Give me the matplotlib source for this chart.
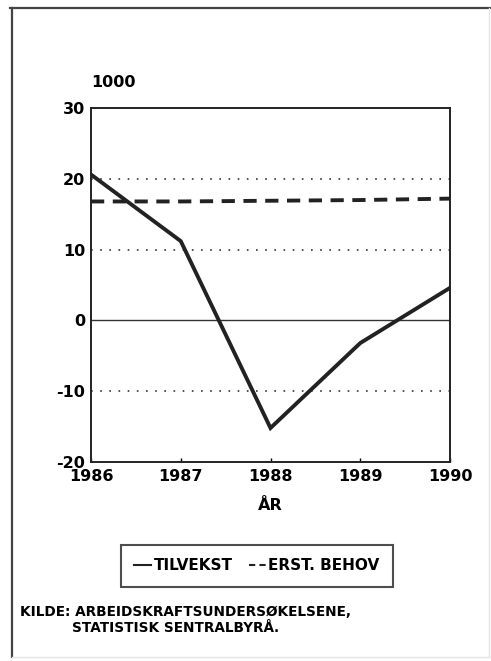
import numpy as np
import matplotlib.pyplot as plt
from matplotlib.lines import Line2D
from matplotlib.ticker import FuncFormatter

years = [1986, 1987, 1988, 1989, 1990]
tilvekst = [20.6, 11.2, -15.2, -3.2, 4.6]
erst_behov = [16.8, 16.8, 16.9, 17.0, 17.2]
yticks = [-20, -10, 0, 10, 20, 30]

plt.rcParams['font.family'] = ['DejaVu Sans']
plt.rcParams['font.weight'] = 'bold'

fig = plt.figure(figsize=(4.91, 6.61), dpi=100)
ax = fig.add_axes([91 / 491, 1 - 462 / 661, 359 / 491, 354 / 661])

for v in [-10, 10, 20]:
    ax.axhline(v, color='#333333', lw=1.2, ls=(0, (1, 4.5)))
ax.axhline(0, color='#333333', lw=1.0)

l1, = ax.plot(years, tilvekst, color='#222222', lw=2.8, solid_joinstyle='miter')
l2, = ax.plot(years, erst_behov, color='#222222', lw=2.8, ls=(0, (3.4, 2.2)))

ax.set_xlim(1986, 1990)
ax.set_ylim(-20, 30)
ax.set_xticks(years)
ax.set_yticks(yticks)
ax.yaxis.set_major_formatter(FuncFormatter(lambda v, p: '%d' % v))
ax.tick_params(axis='x', direction='in', length=3, width=1, pad=5, labelsize=11.5)
ax.tick_params(axis='y', length=0, pad=4, labelsize=11.5)
for s in ax.spines.values():
    s.set_linewidth(1.4)
    s.set_color('#222222')

ax.set_xlabel('ÅR', fontsize=11.5, fontweight='bold', labelpad=10)
ax.text(0.0, 1.05, '1000', transform=ax.transAxes, fontsize=11.5,
        fontweight='bold', ha='left', va='bottom')

leg = fig.legend([l1, l2], ['TILVEKST', 'ERST. BEHOV'], ncol=2,
                 loc='center', bbox_to_anchor=(257 / 491, 1 - 566 / 661),
                 handlelength=1.1, handletextpad=0.15, columnspacing=1.1,
                 borderpad=0.9, prop={'size': 11, 'weight': 'bold'},
                 fancybox=False, edgecolor='#222222')
leg.get_frame().set_linewidth(1.5)
for h in leg.legend_handles:
    h.set_linewidth(1.5)
leg.legend_handles[1].set_linestyle((0, (3, 2)))

fig.text(20 / 491, 1 - 612 / 661, 'KILDE: ARBEIDSKRAFTSUNDERSØKELSENE,',
         fontsize=9.8, fontweight='bold', va='center')
fig.text(72 / 491, 1 - 628 / 661, 'STATISTISK SENTRALBYRÅ.',
         fontsize=9.8, fontweight='bold', va='center')

# outer frame: dark on left and top, faint on right and bottom
fig.add_artist(Line2D([12 / 491, 12 / 491], [1 - 657 / 661, 1 - 8 / 661],
                      transform=fig.transFigure, color='#444444', lw=1.6))
fig.add_artist(Line2D([10 / 491, 1.0], [1 - 8 / 661, 1 - 8 / 661],
                      transform=fig.transFigure, color='#444444', lw=1.6))
fig.add_artist(Line2D([489 / 491, 489 / 491], [1 - 657 / 661, 1 - 8 / 661],
                      transform=fig.transFigure, color='#e4e4e4', lw=1))
fig.add_artist(Line2D([12 / 491, 489 / 491], [1 - 657 / 661, 1 - 657 / 661],
                      transform=fig.transFigure, color='#e4e4e4', lw=1))

fig.savefig('out.png', dpi=100)
